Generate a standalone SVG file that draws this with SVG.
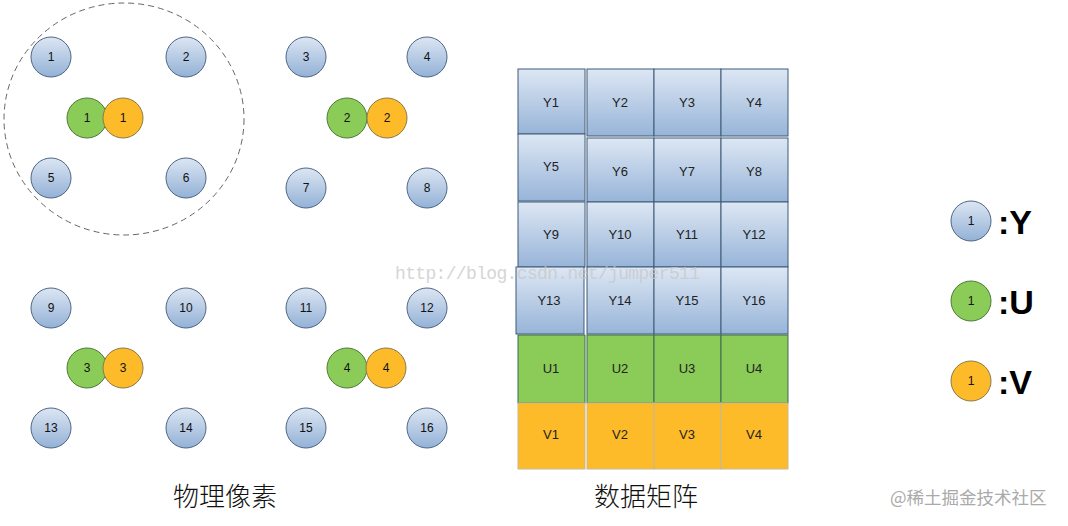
<svg xmlns="http://www.w3.org/2000/svg" width="1068" height="526" viewBox="0 0 1068 526">
<defs>
<linearGradient id="gy" x1="0" y1="0" x2="0" y2="1"><stop offset="0" stop-color="#dce6f3"/><stop offset="1" stop-color="#93b1d6"/></linearGradient>
<linearGradient id="gb" x1="0" y1="0" x2="0" y2="1"><stop offset="0" stop-color="#dde7f4"/><stop offset="1" stop-color="#97b4d8"/></linearGradient>
</defs>
<style>
.y{fill:url(#gy);stroke:#4f6685;stroke-width:1}
.u{fill:#8bcb58;stroke:#4f7a3a;stroke-width:1}
.v{fill:#fdbb2a;stroke:#8a7a4a;stroke-width:1}
.t{font-family:"Liberation Sans",Arial,sans-serif;font-size:12px;fill:#111;text-anchor:middle;dominant-baseline:central}
.by{fill:url(#gb);stroke:#3f5a78;stroke-width:1}
.bu{fill:#8bcb58;stroke:#3f6a55;stroke-width:1}
.bv{fill:#fdbb2a;stroke:#c8b890;stroke-width:1}
.mt{font-family:"Liberation Sans",Arial,sans-serif;font-size:13px;fill:#222;text-anchor:middle;dominant-baseline:central}
.cap{font-family:"Noto Sans CJK SC",sans-serif;font-size:26px;font-weight:300;fill:#111;text-anchor:middle}
.lg{font-family:"Liberation Sans",Arial,sans-serif;font-size:34px;font-weight:bold;fill:#000}
</style>
<ellipse cx="124" cy="119" rx="120" ry="116" fill="none" stroke="#666" stroke-width="1" stroke-dasharray="6,4"/>
<g id="pixels">
<g id="p1"><circle class="y" cx="51" cy="57" r="20"/><text class="t" x="51" y="57">1</text></g>
<g id="p2"><circle class="y" cx="186" cy="57" r="20"/><text class="t" x="186" y="57">2</text></g>
<g id="p3"><circle class="y" cx="306" cy="57" r="20"/><text class="t" x="306" y="57">3</text></g>
<g id="p4"><circle class="y" cx="427" cy="57" r="20"/><text class="t" x="427" y="57">4</text></g>
<g id="p5"><circle class="y" cx="51" cy="178" r="20"/><text class="t" x="51" y="178">5</text></g>
<g id="p6"><circle class="y" cx="186" cy="178" r="20"/><text class="t" x="186" y="178">6</text></g>
<g id="p7"><circle class="y" cx="306" cy="188" r="20"/><text class="t" x="306" y="188">7</text></g>
<g id="p8"><circle class="y" cx="427" cy="188" r="20"/><text class="t" x="427" y="188">8</text></g>
<g id="p9"><circle class="y" cx="51" cy="308" r="20"/><text class="t" x="51" y="308">9</text></g>
<g id="p10"><circle class="y" cx="186" cy="308" r="20"/><text class="t" x="186" y="308">10</text></g>
<g id="p11"><circle class="y" cx="306" cy="308" r="20"/><text class="t" x="306" y="308">11</text></g>
<g id="p12"><circle class="y" cx="427" cy="308" r="20"/><text class="t" x="427" y="308">12</text></g>
<g id="p13"><circle class="y" cx="51" cy="428" r="20"/><text class="t" x="51" y="428">13</text></g>
<g id="p14"><circle class="y" cx="186" cy="428" r="20"/><text class="t" x="186" y="428">14</text></g>
<g id="p15"><circle class="y" cx="306" cy="428" r="20"/><text class="t" x="306" y="428">15</text></g>
<g id="p16"><circle class="y" cx="427" cy="428" r="20"/><text class="t" x="427" y="428">16</text></g>
<g id="u1"><circle class="u" cx="87" cy="118" r="20"/><text class="t" x="87" y="118">1</text></g>
<g id="v1"><circle class="v" cx="123" cy="118" r="20"/><text class="t" x="123" y="118">1</text></g>
<g id="u2"><circle class="u" cx="347" cy="118" r="20"/><text class="t" x="347" y="118">2</text></g>
<g id="v2"><circle class="v" cx="387" cy="118" r="20" stroke="none"/><text class="t" x="387" y="118">2</text></g>
<g id="u3"><circle class="u" cx="87" cy="368" r="20"/><text class="t" x="87" y="368">3</text></g>
<g id="v3"><circle class="v" cx="123" cy="368" r="20"/><text class="t" x="123" y="368">3</text></g>
<g id="u4"><circle class="u" cx="347" cy="368" r="20"/><text class="t" x="347" y="368">4</text></g>
<g id="v4"><circle class="v" cx="386" cy="368" r="20"/><text class="t" x="386" y="368">4</text></g>
</g>
<g id="matrix">
<g id="Y1"><rect class="by" x="518" y="69" width="67" height="65"/><text class="mt" x="551" y="102">Y1</text></g>
<g id="Y2"><rect class="by" x="587" y="69" width="67" height="67"/><text class="mt" x="620" y="102">Y2</text></g>
<g id="Y3"><rect class="by" x="654" y="69" width="67" height="67"/><text class="mt" x="687" y="102">Y3</text></g>
<g id="Y4"><rect class="by" x="721" y="69" width="67" height="67"/><text class="mt" x="754" y="102">Y4</text></g>
<g id="Y5"><rect class="by" x="518" y="134" width="67" height="67"/><text class="mt" x="551" y="166">Y5</text></g>
<g id="Y6"><rect class="by" x="587" y="138" width="67" height="64"/><text class="mt" x="620" y="171">Y6</text></g>
<g id="Y7"><rect class="by" x="654" y="138" width="67" height="64"/><text class="mt" x="687" y="171">Y7</text></g>
<g id="Y8"><rect class="by" x="721" y="138" width="67" height="64"/><text class="mt" x="754" y="171">Y8</text></g>
<g id="Y9"><rect class="by" x="518" y="202" width="67" height="65"/><text class="mt" x="551" y="234">Y9</text></g>
<g id="Y10"><rect class="by" x="587" y="202" width="67" height="65"/><text class="mt" x="620" y="234">Y10</text></g>
<g id="Y11"><rect class="by" x="654" y="202" width="67" height="65"/><text class="mt" x="687" y="234">Y11</text></g>
<g id="Y12"><rect class="by" x="721" y="202" width="67" height="65"/><text class="mt" x="754" y="234">Y12</text></g>
<g id="Y13"><rect class="by" x="516" y="267" width="68" height="67"/><text class="mt" x="549" y="300">Y13</text></g>
<g id="Y14"><rect class="by" x="587" y="267" width="67" height="67"/><text class="mt" x="620" y="300">Y14</text></g>
<g id="Y15"><rect class="by" x="654" y="267" width="67" height="67"/><text class="mt" x="687" y="300">Y15</text></g>
<g id="Y16"><rect class="by" x="721" y="267" width="67" height="67"/><text class="mt" x="754" y="300">Y16</text></g>
<g id="U1"><rect class="bu" x="518" y="335" width="67" height="68"/><text class="mt" x="551" y="368">U1</text></g>
<g id="U2"><rect class="bu" x="587" y="335" width="67" height="68"/><text class="mt" x="620" y="368">U2</text></g>
<g id="U3"><rect class="bu" x="654" y="335" width="67" height="68"/><text class="mt" x="687" y="368">U3</text></g>
<g id="U4"><rect class="bu" x="721" y="335" width="67" height="68"/><text class="mt" x="754" y="368">U4</text></g>
<g id="V1"><rect class="bv" x="518" y="403" width="67" height="66"/><text class="mt" x="551" y="434">V1</text></g>
<g id="V2"><rect class="bv" x="587" y="403" width="67" height="66"/><text class="mt" x="620" y="434">V2</text></g>
<g id="V3"><rect class="bv" x="654" y="403" width="67" height="66"/><text class="mt" x="687" y="434">V3</text></g>
<g id="V4"><rect class="bv" x="721" y="403" width="67" height="66"/><text class="mt" x="754" y="434">V4</text></g>
</g>
<g id="connectors"></g>
<text x="395" y="279" font-family="'Liberation Mono',monospace" font-size="18" fill="#c8c8c8" opacity="0.75" textLength="305">http://blog.csdn.net/jumper511</text>
<g id="legend">
<g id="lgY"><circle class="y" cx="971" cy="221" r="20"/><text class="t" x="971" y="221">1</text><text class="lg" x="998" y="234">:Y</text></g>
<g id="lgU"><circle class="u" cx="971" cy="301" r="20"/><text class="t" x="971" y="301">1</text><text class="lg" x="998" y="314">:U</text></g>
<g id="lgV"><circle class="v" cx="971" cy="381" r="20"/><text class="t" x="971" y="381">1</text><text class="lg" x="998" y="394">:V</text></g>
</g>
<text class="cap" x="225" y="506">物理像素</text>
<text class="cap" x="646" y="506">数据矩阵</text>
<text x="890" y="504" font-family="'Noto Sans CJK SC',sans-serif" font-size="17.5" fill="#aaaaaa">@稀土掘金技术社区</text>
</svg>
